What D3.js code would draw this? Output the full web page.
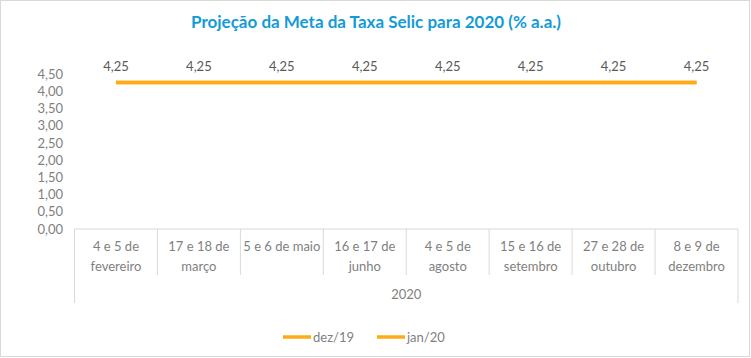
<!DOCTYPE html>
<html><head><meta charset="utf-8">
<script src="https://cdn.jsdelivr.net/npm/d3@7"></script>
<style>body{margin:0;background:#fff}svg{display:block}</style>
</head><body>
<script>
const categories = [["4 e 5 de","fevereiro"],["17 e 18 de","março"],["5 e 6 de maio"],["16 e 17 de","junho"],["4 e 5 de","agosto"],["15 e 16 de","setembro"],["27 e 28 de","outubro"],["8 e 9 de","dezembro"]];
const groupLabel = "2020";
const dez19 = [4.25,4.25,4.25,4.25,4.25,4.25,4.25,4.25];
const jan20 = [4.25,4.25,4.25,4.25,4.25,4.25,4.25,4.25];
const seriesNames = ["dez/19","jan/20"];
const yTicks = [0,0.5,1,1.5,2,2.5,3,3.5,4,4.5];
const title = "Projeção da Meta da Taxa Selic para 2020 (% a.a.)";

const W=751,H=358, font="Lato, 'Open Sans', sans-serif", color="#FFAB16";
const svg=d3.select("body").append("svg").attr("width",W).attr("height",H);
svg.append("rect").attr("x",0.5).attr("y",0.5).attr("width",749).attr("height",356).attr("fill","#fff").attr("stroke","#D9D9D9");

svg.append("text").attr("x",376).attr("y",28).attr("text-anchor","middle").attr("font-family",font).attr("font-weight","bold").attr("font-size",17).attr("fill","#149BD7").text(title);

const x=d3.scaleBand().domain(d3.range(categories.length)).range([74.5,738]);
const y=d3.scaleLinear().domain([0,4.5]).range([229,74]);

const yAxis=svg.append("g").attr("transform","translate(66,0)").call(d3.axisLeft(y).tickValues(yTicks).tickSize(0).tickFormat(d=>d3.format(".2f")(d).replace(".",",")));
yAxis.select(".domain").remove();
yAxis.selectAll("text").attr("font-family",font).attr("font-size",13).attr("fill","#7F7F7F");

const xg=svg.append("g");
xg.append("line").attr("x1",x.range()[0]).attr("x2",x.range()[1]).attr("y1",y(0)).attr("y2",y(0)).attr("stroke","#D9D9D9");
const bounds=d3.range(categories.length+1).map(i=>i<categories.length?x(i):x.range()[1]);
bounds.forEach((b,i)=>{
  const end=(i===0||i===categories.length)?303:275;
  xg.append("line").attr("x1",b).attr("x2",b).attr("y1",y(0)).attr("y2",end).attr("stroke","#D9D9D9");
});
categories.forEach((c,i)=>{
  const t=xg.append("text").attr("x",x(i)+x.bandwidth()/2).attr("y",251).attr("text-anchor","middle").attr("font-family",font).attr("font-size",13).attr("fill","#7F7F7F");
  c.forEach((l,j)=>t.append("tspan").attr("x",x(i)+x.bandwidth()/2).attr("dy",j?20:0).text(l));
});
xg.append("text").attr("x",(x.range()[0]+x.range()[1])/2).attr("y",299).attr("text-anchor","middle").attr("font-family",font).attr("font-size",13).attr("fill","#7F7F7F").text(groupLabel);

const line=d3.line().x((d,i)=>x(i)+x.bandwidth()/2).y(d=>y(d));
[dez19,jan20].forEach(s=>{
  svg.append("path").datum(s).attr("d",line).attr("fill","none").attr("stroke",color).attr("stroke-width",3.5);
});
svg.selectAll(".lbl").data(jan20).join("text").attr("x",(d,i)=>x(i)+x.bandwidth()/2).attr("y",d=>y(d)-12).attr("text-anchor","middle").attr("font-family",font).attr("font-size",13).attr("fill","#595959").text(d=>d3.format(".2f")(d).replace(".",","));

const lx=[283,377];
seriesNames.forEach((n,i)=>{
  svg.append("line").attr("x1",lx[i]).attr("x2",lx[i]+28).attr("y1",337).attr("y2",337).attr("stroke",color).attr("stroke-width",3.5);
  svg.append("text").attr("x",lx[i]+30).attr("y",342).attr("font-family",font).attr("font-size",13).attr("fill","#7F7F7F").text(n);
});
</script>
</body></html>
